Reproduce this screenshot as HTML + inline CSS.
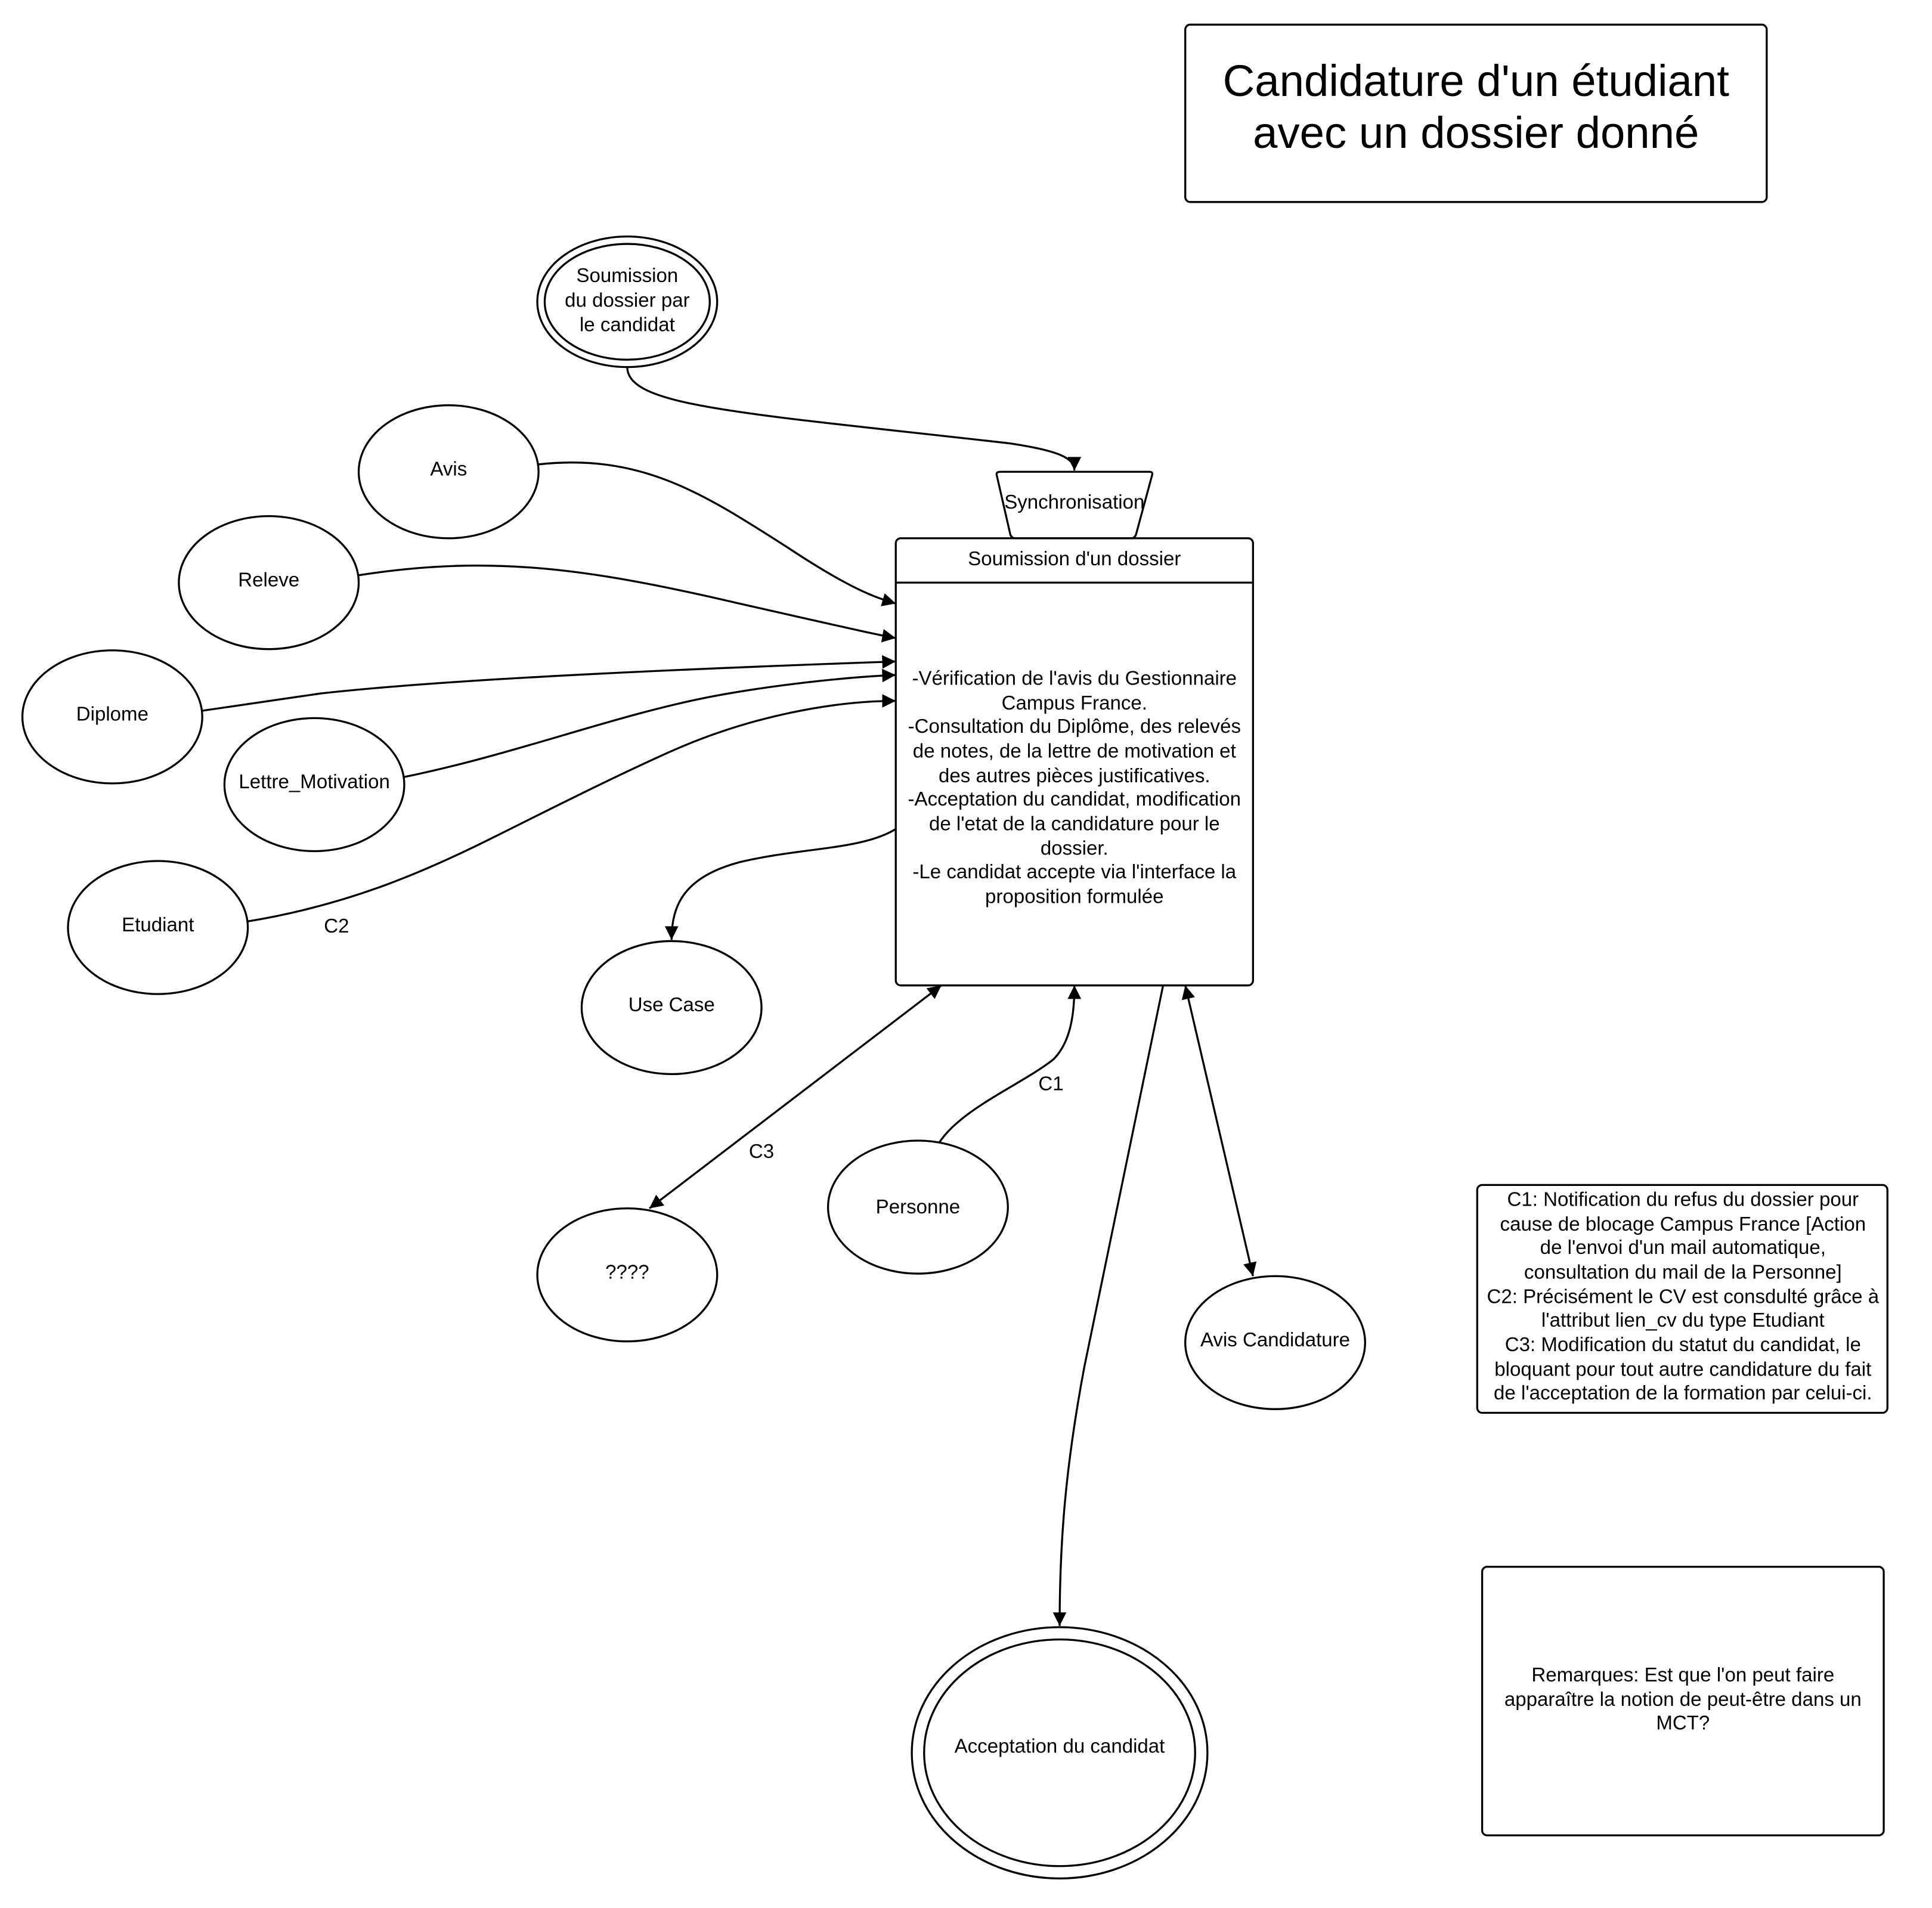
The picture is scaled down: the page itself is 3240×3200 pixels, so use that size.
<!DOCTYPE html>
<html><head><meta charset="utf-8"><style>
html,body{margin:0;padding:0;background:#fff;}
svg{display:block;}
text{font-family:"Liberation Sans",sans-serif;fill:#000;}
</style></head><body>
<svg width="3240" height="3200" viewBox="0 0 1568 1549" xmlns="http://www.w3.org/2000/svg">
<defs>
<marker id="a" viewBox="0 0 10 10" refX="10" refY="5" markerWidth="14" markerHeight="11" markerUnits="userSpaceOnUse" orient="auto-start-reverse">
<path d="M0,0 L10,5 L0,10 z" fill="#000"/></marker>
</defs>
<rect width="1568" height="1549" fill="#fff"/>
<g fill="none" stroke="#000" stroke-width="1.6">
<rect x="962" y="20" width="472" height="144" rx="4"/>
<ellipse cx="509" cy="245" rx="73" ry="53"/><ellipse cx="509" cy="245" rx="67" ry="47"/>
<ellipse cx="364" cy="383" rx="73" ry="54"/>
<ellipse cx="218" cy="473" rx="73" ry="54"/>
<ellipse cx="91" cy="582" rx="73" ry="54"/>
<ellipse cx="255" cy="637" rx="73" ry="54"/>
<ellipse cx="128" cy="753" rx="73" ry="54"/>
<ellipse cx="545" cy="818" rx="73" ry="54"/>
<ellipse cx="509" cy="1035" rx="73" ry="54"/>
<ellipse cx="745" cy="980" rx="73" ry="54"/>
<ellipse cx="1035" cy="1090" rx="73" ry="54"/>
<ellipse cx="860" cy="1423" rx="120" ry="102"/><ellipse cx="860" cy="1423" rx="110" ry="92"/>
<path d="M812,383 L933,383 Q936,383 935,386 L922,434 Q921,437 918,437 L824,437 Q821,437 820,434 L809,386 Q808,383 812,383 z"/>
<rect x="727" y="437" width="290" height="363" rx="4"/>
<line x1="727" y1="473" x2="1017" y2="473"/>
<rect x="1199" y="962" width="333" height="185" rx="4"/>
<rect x="1203" y="1272" width="326" height="218" rx="4"/>
<g marker-end="url(#a)">
<path d="M509,298 C509,330 600,335 820,360 C860,366 872,372 872,382"/>
<path d="M437,377 C520,368 570,400 640,445 C690,478 710,485 727,490"/>
<path d="M291,467 C400,450 480,462 600,490 C680,508 710,515 727,518"/>
<path d="M164,577 L260,563 C350,553 500,545 727,537"/>
<path d="M327,631 C420,612 500,580 580,565 C640,554 700,549 727,548"/>
<path d="M201,748 C280,735 340,710 400,680 C460,650 500,630 540,612 C610,580 680,569 727,569"/>
<path d="M727,673 C700,690 650,688 600,700 C555,712 545,735 545,763"/>
<path d="M764,800 L527,981" marker-start="url(#a)"/>
<path d="M762,928 C780,900 830,880 855,860 C870,845 872,820 872,800"/>
<path d="M944,800 L880,1110 C865,1190 860,1250 860,1320"/>
<path d="M962,800 L1017,1036" marker-start="url(#a)"/>
</g>
</g>
<g text-anchor="middle" font-size="16">
<text x="1198" y="78" font-size="36">Candidature d'un étudiant</text>
<text x="1198" y="120" font-size="36">avec un dossier donné</text>
<text x="509" y="229">Soumission</text>
<text x="509" y="249">du dossier par</text>
<text x="509" y="269">le candidat</text>
<text x="364" y="386">Avis</text>
<text x="218" y="476">Releve</text>
<text x="91" y="585">Diplome</text>
<text x="255" y="640">Lettre_Motivation</text>
<text x="128" y="756">Etudiant</text>
<text x="545" y="821">Use Case</text>
<text x="509" y="1038">????</text>
<text x="745" y="985">Personne</text>
<text x="1035" y="1093">Avis Candidature</text>
<text x="860" y="1423">Acceptation du candidat</text>
<text x="872" y="413">Synchronisation</text>
<text x="872" y="459">Soumission  d'un dossier</text>
<text x="872" y="556">-Vérification de l'avis du Gestionnaire</text>
<text x="872" y="576">Campus France.</text>
<text x="872" y="595">-Consultation du Diplôme, des relevés</text>
<text x="872" y="615">de notes, de la lettre de motivation et</text>
<text x="872" y="635">des autres pièces justificatives.</text>
<text x="872" y="654">-Acceptation du candidat, modification</text>
<text x="872" y="674">de l'etat de la candidature pour le</text>
<text x="872" y="694">dossier.</text>
<text x="872" y="713">-Le candidat accepte via l'interface la</text>
<text x="872" y="733">proposition formulée</text>
<text x="1366" y="979">C1: Notification du refus du dossier pour</text>
<text x="1366" y="999">cause de blocage Campus France [Action</text>
<text x="1366" y="1018">de l'envoi d'un mail automatique,</text>
<text x="1366" y="1038">consultation du mail de la Personne]</text>
<text x="1366" y="1058">C2: Précisément le CV est consdulté grâce à</text>
<text x="1366" y="1077">l'attribut lien_cv du type Etudiant</text>
<text x="1366" y="1097">C3:  Modification du statut du candidat, le</text>
<text x="1366" y="1117">bloquant pour tout autre candidature du fait</text>
<text x="1366" y="1136">de l'acceptation de la formation par celui-ci.</text>
<text x="1366" y="1365">Remarques: Est que l'on peut faire</text>
<text x="1366" y="1385">apparaître la notion de peut-être dans un</text>
<text x="1366" y="1404">MCT?</text>
<text x="273" y="757">C2</text>
<text x="853" y="885">C1</text>
<text x="618" y="940">C3</text>
</g>
</svg>
</body></html>
